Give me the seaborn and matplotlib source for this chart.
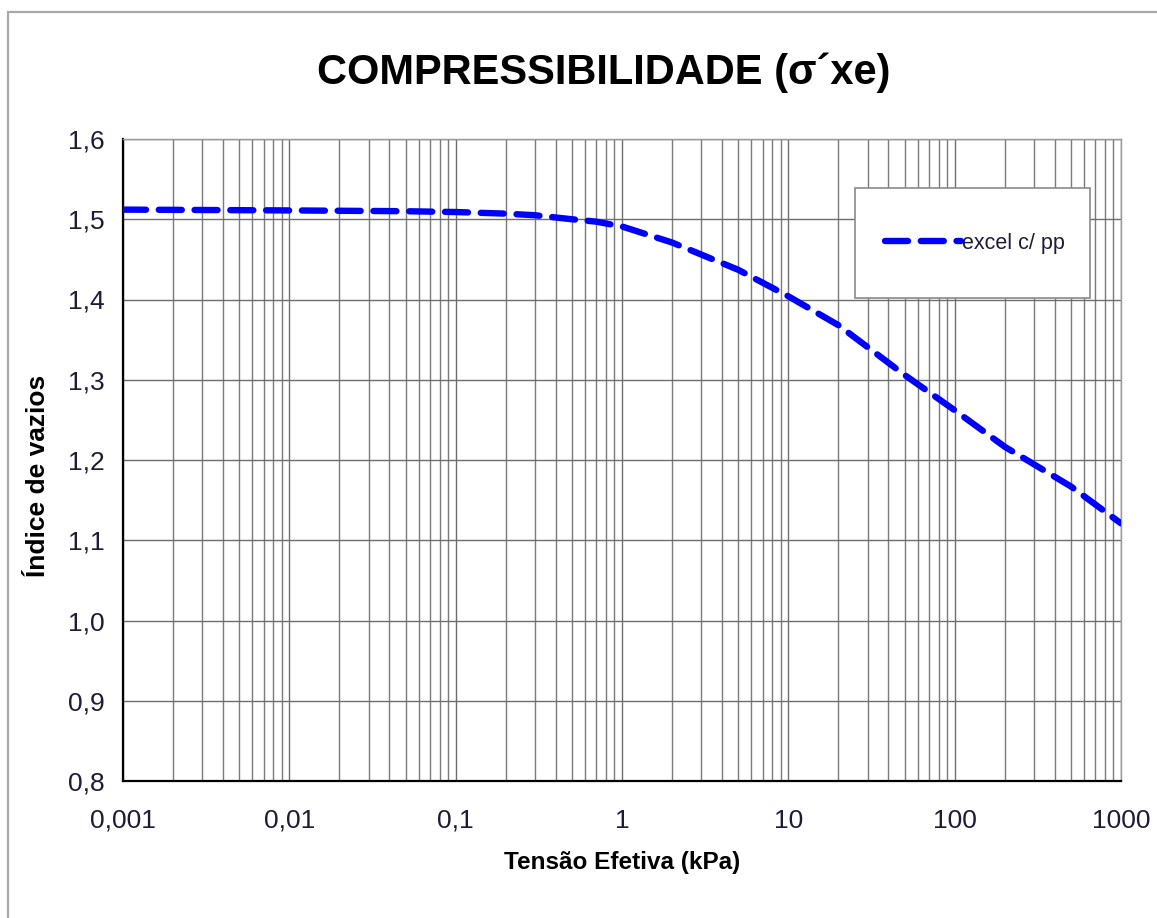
import numpy as np
import pandas as pd
import matplotlib
matplotlib.use("Agg")
import matplotlib.pyplot as plt
import matplotlib.ticker as mticker
from matplotlib.patches import Rectangle
import seaborn as sns

# ---- data ----
tensao = [0.001, 0.01, 0.05, 0.1, 0.2, 0.3, 0.5, 0.7, 1, 2, 5, 10, 20, 50, 100, 200, 500, 1000]
indice = [1.512, 1.511, 1.510, 1.509, 1.507, 1.505, 1.500, 1.497, 1.491, 1.471, 1.437,
          1.404, 1.368, 1.306, 1.262, 1.2165, 1.167, 1.121]
serie = "excel c/ pp"
x_ticks = [0.001, 0.01, 0.1, 1, 10, 100, 1000]
x_ticklabels = ["0,001", "0,01", "0,1", "1", "10", "100", "1000"]
y_ticks = [0.8, 0.9, 1.0, 1.1, 1.2, 1.3, 1.4, 1.5, 1.6]
y_ticklabels = ["0,8", "0,9", "1,0", "1,1", "1,2", "1,3", "1,4", "1,5", "1,6"]

df = pd.DataFrame({"Tensao": tensao, "Indice": indice, "Serie": serie})

sns.set_style("white")
plt.rcParams["font.family"] = ["Liberation Sans", "DejaVu Sans"]
plt.rcParams["text.color"] = "black"
plt.rcParams["axes.labelcolor"] = "black"

W, H = 1157, 918
fig = plt.figure(figsize=(W / 100, H / 100), dpi=100)
ax = fig.add_axes([123 / W, 1 - 781 / H, (1121 - 123) / W, (781 - 139) / H])

# outer frame
fig.patches.append(Rectangle((8 / W, -0.05), 1.2, 1 - 12 / H + 0.05, transform=fig.transFigure,
                             fill=False, edgecolor="#a8a8a8", linewidth=1.6, zorder=0))

sns.lineplot(data=df, x="Tensao", y="Indice", hue="Serie", palette=["#0000ff"], ax=ax,
             linewidth=4.6, dashes=False, legend=False)
line = ax.lines[0]
line.set_dashes((3.6, 2.0))
line.set_dash_capstyle("round")
line.set_solid_capstyle("round")
line.set_label(serie)
line.set_zorder(5)

ax.set_xscale("log")
ax.set_xlim(0.001, 1000)
ax.set_ylim(0.8, 1.6)
ax.set_xticks(x_ticks)
ax.set_xticklabels(x_ticklabels)
ax.xaxis.set_minor_locator(mticker.LogLocator(base=10, subs=np.arange(2, 10), numticks=100))
ax.xaxis.set_minor_formatter(mticker.NullFormatter())
ax.set_yticks(y_ticks)
ax.set_yticklabels(y_ticklabels)
ax.yaxis.set_minor_locator(mticker.MultipleLocator(0.02))

ax.grid(True, which="major", axis="both", color="#6e6e6e", linewidth=1.0)
ax.grid(True, which="minor", axis="x", color="#7a7a7a", linewidth=1.0)
ax.set_axisbelow(True)

tick_color = "#1c1c38"
ax.tick_params(axis="both", which="major", labelsize=19, labelcolor=tick_color,
               direction="out", length=8, width=1.2, color="#555555")
ax.tick_params(axis="x", which="major", pad=12)
ax.tick_params(axis="y", which="major", pad=5)
ax.tick_params(axis="x", which="minor", length=0)
ax.tick_params(axis="y", which="minor", direction="in", length=6, width=1, color="#777777")

for s in ["left", "bottom"]:
    ax.spines[s].set_color("black")
    ax.spines[s].set_linewidth(1.6)
for s in ["top", "right"]:
    ax.spines[s].set_color("#9a9a9a")
    ax.spines[s].set_linewidth(1.0)

ax.set_xlabel("Tensão Efetiva (kPa)", fontsize=17.5, fontweight="bold", labelpad=13)
ax.set_ylabel("Índice de vazios", fontsize=19, fontweight="bold")
ax.yaxis.set_label_coords(-(123 - 50) / 998, 1 - (476 - 139) / 642)
fig.text(604 / W, 1 - 73 / H, "COMPRESSIBILIDADE (σ´xe)", ha="center", va="center",
         fontsize=30, fontweight="bold", color="black")

# legend box
ax.add_patch(Rectangle(((855 - 123) / 998, 1 - (298 - 139) / 642), 235 / 998, 110 / 642,
                       transform=ax.transAxes, facecolor="white", edgecolor="#8a8a8a",
                       linewidth=1.2, zorder=6))
leg = ax.legend(handles=[line], loc="center", bbox_to_anchor=((975 - 123) / 998, 1 - (243 - 139) / 642),
                frameon=False, fontsize=15.5, handlelength=3.5, handletextpad=0.05,
                labelcolor=tick_color)
leg.set_zorder(7)

fig.savefig("out.png", dpi=100, facecolor="white")
